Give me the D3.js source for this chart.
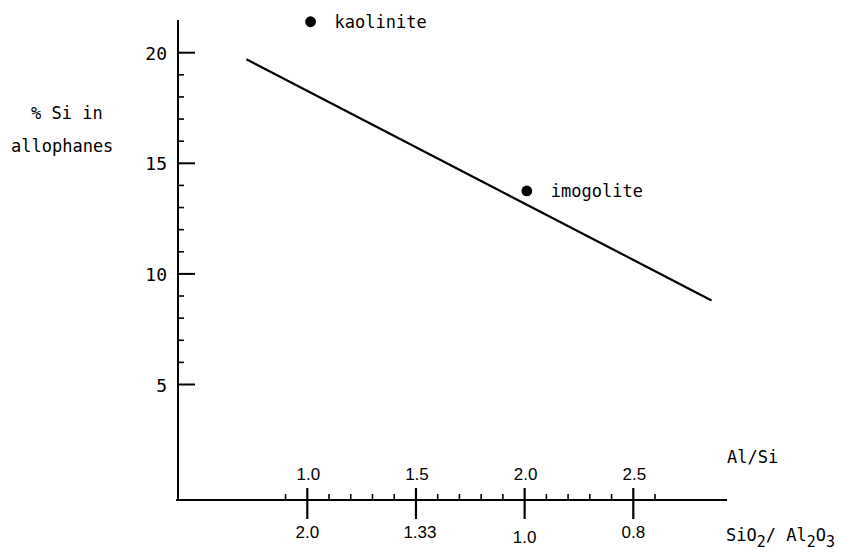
<!DOCTYPE html>
<html>
<head>
<meta charset="utf-8">
<script src="https://cdn.jsdelivr.net/npm/d3@7"></script>
<style>
  body { margin: 0; background: #fff; }
  .mono { font-family: "DejaVu Sans Mono", monospace; font-size: 17px; fill: #000; }
  .ylab { font-family: "DejaVu Sans Mono", monospace; font-size: 18px; fill: #000; }
  .tick { font-family: "Liberation Sans", Arial, sans-serif; font-size: 17px; fill: #000; }
</style>
</head>
<body>
<div class="chart"></div>
<script>
// data
var yMajor = [5, 10, 15, 20];
var yMinor = [6, 7, 8, 9, 11, 12, 13, 14, 16, 17, 18, 19];
var alSiMajor = [1.0, 1.5, 2.0, 2.5];
var alSiMinor = [0.9, 1.1, 1.2, 1.3, 1.4, 1.6, 1.7, 1.8, 1.9, 2.1, 2.2, 2.3, 2.4, 2.6];
var alSiLabels = ["1.0", "1.5", "2.0", "2.5"];
var ratioLabels = ["2.0", "1.33", "1.0", "0.8"];
var lineX = [0.72, 2.86];
var lineY = [19.7, 8.8];
var minerals = ["kaolinite", "imogolite"];
var mineralX = [1.015, 2.01];
var mineralY = [21.4, 13.75];

var svgWidth = 846, svgHeight = 553;
var axisY = 500;   // baseline of the x axis
var axisX = 178;   // position of the y axis

var svg = d3.select(".chart")
    .append("svg")
    .attr("width", svgWidth)
    .attr("height", svgHeight);

// scales
var x = d3.scaleLinear().domain([1.0, 2.5]).range([307.3, 633.3]);
var y = d3.scaleLinear().domain([0, 20]).range([495.1, 52.7]);

// y axis
svg.append("line")
    .attr("x1", axisX).attr("x2", axisX)
    .attr("y1", 20).attr("y2", axisY)
    .attr("stroke", "#000").attr("stroke-width", 2);

svg.selectAll(".ymaj")
    .data(yMajor)
    .enter().append("line")
    .attr("x1", axisX).attr("x2", axisX + 17)
    .attr("y1", function(d) { return y(d); })
    .attr("y2", function(d) { return y(d); })
    .attr("stroke", "#000").attr("stroke-width", 2);

svg.selectAll(".ymin")
    .data(yMinor)
    .enter().append("line")
    .attr("x1", axisX).attr("x2", axisX + 6)
    .attr("y1", function(d) { return y(d); })
    .attr("y2", function(d) { return y(d); })
    .attr("stroke", "#000").attr("stroke-width", 1.6);

svg.selectAll(".ylabt")
    .data(yMajor)
    .enter().append("text")
    .attr("class", "ylab")
    .attr("x", 167)
    .attr("y", function(d) { return y(d) + 7; })
    .attr("text-anchor", "end")
    .text(function(d) { return d; });

// y title
svg.append("text").attr("class", "mono")
    .attr("x", 31).attr("y", 119)
    .text("% Si in");
svg.append("text").attr("class", "mono")
    .attr("x", 11).attr("y", 152)
    .text("allophanes");

// x axis
svg.append("line")
    .attr("x1", 176).attr("x2", 727)
    .attr("y1", axisY).attr("y2", axisY)
    .attr("stroke", "#000").attr("stroke-width", 2);

svg.selectAll(".xmaj")
    .data(alSiMajor)
    .enter().append("line")
    .attr("x1", function(d) { return x(d); })
    .attr("x2", function(d) { return x(d); })
    .attr("y1", axisY - 12).attr("y2", axisY + 19)
    .attr("stroke", "#000").attr("stroke-width", 2.2);

svg.selectAll(".xmin")
    .data(alSiMinor)
    .enter().append("line")
    .attr("x1", function(d) { return x(d); })
    .attr("x2", function(d) { return x(d); })
    .attr("y1", axisY - 6).attr("y2", axisY)
    .attr("stroke", "#000").attr("stroke-width", 1.6);

svg.selectAll(".xtop")
    .data(alSiMajor)
    .enter().append("text")
    .attr("class", "tick")
    .attr("x", function(d) { return x(d) + 1; })
    .attr("y", 480)
    .attr("text-anchor", "middle")
    .text(function(d, i) { return alSiLabels[i]; });

svg.selectAll(".xbot")
    .data(alSiMajor)
    .enter().append("text")
    .attr("class", "tick")
    .attr("x", function(d, i) { return x(d) + (i == 1 ? 4 : 0); })
    .attr("y", function(d, i) { return i == 2 ? 543 : 538; })
    .attr("text-anchor", "middle")
    .text(function(d, i) { return ratioLabels[i]; });

// axis titles on the right
svg.append("text").attr("class", "mono")
    .attr("x", 727).attr("y", 463)
    .text("Al/Si");

var ratio = svg.append("text").attr("class", "mono")
    .attr("x", 726).attr("y", 541);
ratio.append("tspan").text("SiO");
ratio.append("tspan").attr("dy", 6).attr("font-size", 15).text("2");
ratio.append("tspan").attr("dy", -6).text("/ Al");
ratio.append("tspan").attr("dy", 6).attr("font-size", 15).text("2");
ratio.append("tspan").attr("dy", -6).text("O");
ratio.append("tspan").attr("dy", 6).attr("font-size", 15).text("3");

// straight line
var line = d3.line()
    .x(function(d) { return x(d[0]); })
    .y(function(d) { return y(d[1]); });

svg.append("path")
    .datum(d3.zip(lineX, lineY))
    .attr("d", line)
    .attr("fill", "none")
    .attr("stroke", "#000")
    .attr("stroke-width", 2.2);

// minerals
var pts = svg.selectAll(".pt")
    .data(minerals)
    .enter().append("g");

pts.append("circle")
    .attr("cx", function(d, i) { return x(mineralX[i]); })
    .attr("cy", function(d, i) { return y(mineralY[i]); })
    .attr("r", 5.4)
    .attr("fill", "#000");

pts.append("text")
    .attr("class", "mono")
    .attr("x", function(d, i) { return x(mineralX[i]) + 24; })
    .attr("y", function(d, i) { return y(mineralY[i]) + 6; })
    .text(function(d) { return d; });
</script>
</body>
</html>
